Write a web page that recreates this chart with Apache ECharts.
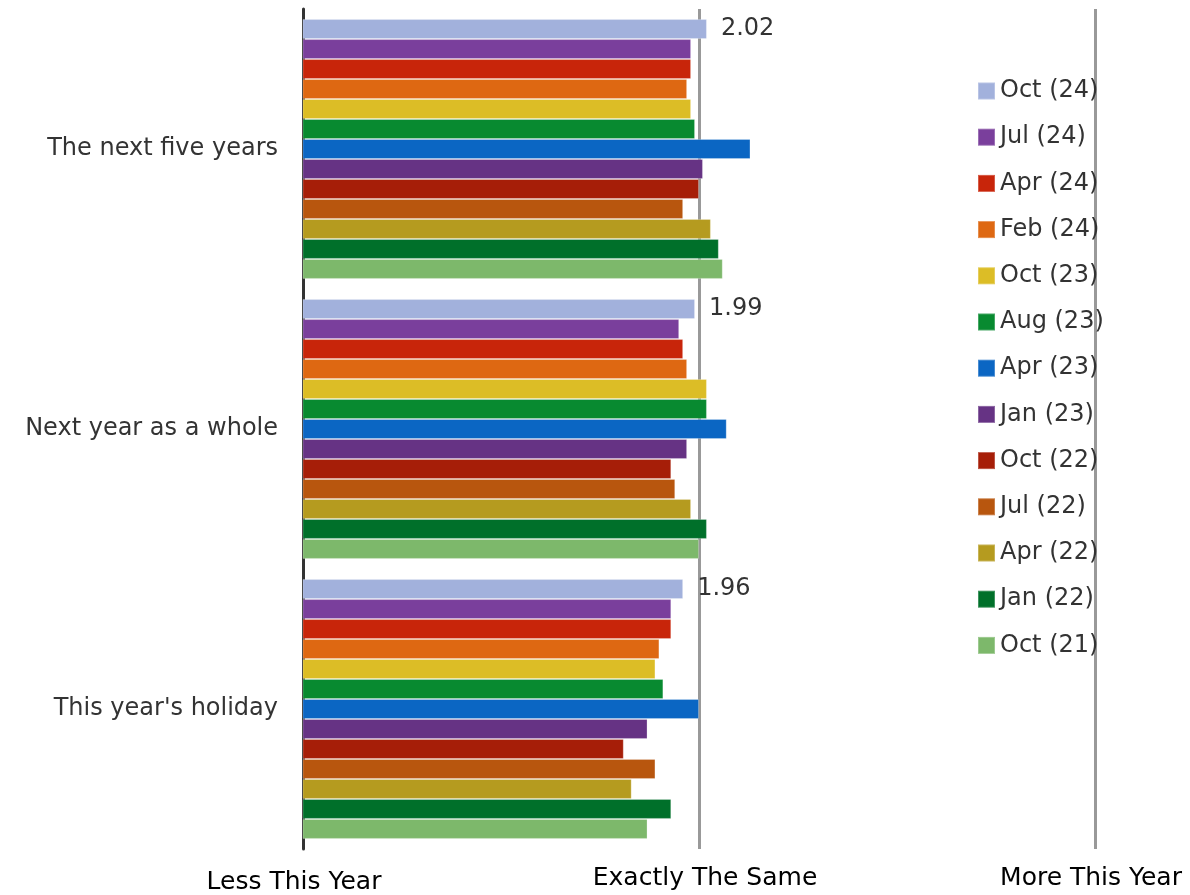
<!DOCTYPE html>
<html>
<head>
<meta charset="utf-8">
<script src="https://cdn.jsdelivr.net/npm/echarts@6/dist/echarts.min.js"></script>
<style>
  html, body { margin: 0; padding: 0; background: #fff; }
  #chart { width: 1190px; height: 895px; }
</style>
</head>
<body>
<div id="chart"></div>
<script>
var chart = echarts.init(document.getElementById('chart'));

// categories, top to bottom
var categories = ['The next five years', 'Next year as a whole', "This year's holiday"];
// x axis tick labels (1, 2, 3)
var tickLabels = ['Less This Year', 'Exactly The Same', 'More This Year'];

// survey waves, newest first (top bar of each group)
var waves = ['Oct (24)', 'Jul (24)', 'Apr (24)', 'Feb (24)', 'Oct (23)', 'Aug (23)', 'Apr (23)',
             'Jan (23)', 'Oct (22)', 'Jul (22)', 'Apr (22)', 'Jan (22)', 'Oct (21)'];
var colors = ['#a2b1dc', '#7a3f9c', '#c8250a', '#de6812', '#dcbd26', '#088a30', '#0b66c3',
              '#663384', '#a61e08', '#b8560e', '#b59b1f', '#00702a', '#7db86b'];

// values per wave: [next five years, next year, this year]
var oct24 = [2.02, 1.99, 1.96];
var jul24 = [1.98, 1.95, 1.93];
var apr24 = [1.98, 1.96, 1.93];
var feb24 = [1.97, 1.97, 1.90];
var oct23 = [1.98, 2.02, 1.89];
var aug23 = [1.99, 2.02, 1.91];
var apr23 = [2.13, 2.07, 2.00];
var jan23 = [2.01, 1.97, 1.87];
var oct22 = [2.00, 1.93, 1.81];
var jul22 = [1.96, 1.94, 1.89];
var apr22 = [2.03, 1.98, 1.83];
var jan22 = [2.05, 2.02, 1.93];
var oct21 = [2.06, 2.00, 1.87];

var values = [oct24, jul24, apr24, feb24, oct23, aug23, apr23, jan23, oct22, jul22, apr22, jan22, oct21];

var font = 'DejaVu Sans, Verdana, sans-serif';

var series = [];
for (var i = 0; i < waves.length; i++) {
    series.push({
        name: waves[i],
        type: 'bar',
        data: values[i],
        barGap: 0,
        barCategoryGap: '7.2%',
        itemStyle: {
            color: colors[i],
            borderColor: 'rgba(255,255,255,0.25)',
            borderWidth: 1
        },
        label: {
            show: i === 0,
            position: 'right',
            distance: 14,
            fontSize: 24,
            fontFamily: font,
            color: '#333',
            formatter: function (p) { return p.value.toFixed(2); }
        },
        animation: false
    });
}

var option = {
    color: colors,
    textStyle: { fontFamily: font },
    grid: { left: 303, right: 95, top: 9, bottom: 46, containLabel: false },
    legend: {
        data: waves,
        orient: 'vertical',
        left: 972,
        top: 74,
        itemWidth: 17,
        itemHeight: 17,
        itemGap: 22.2,
        icon: 'rect',
        textStyle: { fontSize: 24, color: '#333', fontFamily: font }
    },
    xAxis: {
        type: 'value',
        min: 1,
        max: 3,
        interval: 1,
        axisLine: { show: false },
        axisTick: { show: false },
        axisLabel: {
            fontSize: 25,
            color: '#000',
            fontFamily: font,
            margin: 17,
            formatter: function (v) {
                var k = Math.round(v) - 1;
                return '{t' + k + '|' + tickLabels[k] + '}';
            },
            rich: {
                t0: { fontSize: 25, color: '#000', fontFamily: font, padding: [4, 18, 0, 0] },
                t1: { fontSize: 25, color: '#000', fontFamily: font, padding: [0, 0, 0, 12] },
                t2: { fontSize: 25, color: '#000', fontFamily: font, padding: [0, 8, 0, 0] }
            }
        },
        splitLine: { lineStyle: { color: '#999', width: 3 } }
    },
    yAxis: {
        type: 'category',
        inverse: true,
        data: categories,
        axisLine: { lineStyle: { color: '#333', width: 3 } },
        axisTick: { show: false },
        axisLabel: { fontSize: 24, color: '#333', fontFamily: font, margin: 25 }
    },
    series: series
};

chart.setOption(option);
</script>
</body>
</html>
